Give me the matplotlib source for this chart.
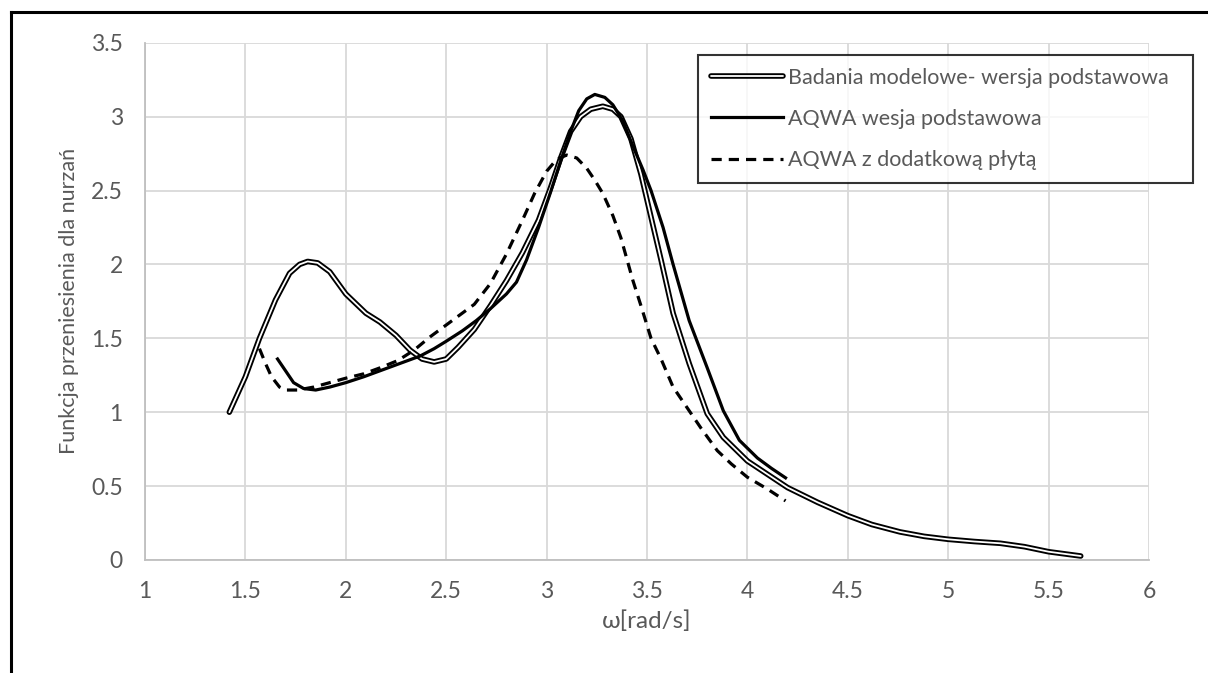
import numpy as np
import matplotlib.pyplot as plt
import matplotlib.patheffects as pe
from matplotlib.lines import Line2D

# values
omega_model = [1.42, 1.50, 1.57, 1.65, 1.72, 1.77, 1.81, 1.86, 1.92, 2.00, 2.10, 2.17, 2.25, 2.32,
               2.38, 2.44, 2.50, 2.56, 2.64, 2.72, 2.80, 2.88, 2.96, 3.02, 3.07, 3.12, 3.17, 3.22,
               3.28, 3.33, 3.37, 3.42, 3.47, 3.52, 3.57, 3.63, 3.71, 3.80, 3.88, 4.00, 4.10, 4.20,
               4.35, 4.50, 4.62, 4.76, 4.88, 5.00, 5.13, 5.26, 5.38, 5.50, 5.66]
rao_model = [1.00, 1.24, 1.50, 1.76, 1.94, 2.00, 2.02, 2.01, 1.95, 1.80, 1.67, 1.61, 1.52, 1.42,
             1.36, 1.34, 1.36, 1.44, 1.56, 1.72, 1.89, 2.08, 2.30, 2.52, 2.72, 2.90, 3.00, 3.05,
             3.07, 3.05, 3.00, 2.85, 2.61, 2.32, 2.03, 1.67, 1.33, 0.99, 0.83, 0.67, 0.58, 0.49,
             0.39, 0.30, 0.24, 0.19, 0.16, 0.14, 0.125, 0.113, 0.09, 0.056, 0.027]

omega_aqwa = [1.66, 1.70, 1.74, 1.79, 1.85, 1.92, 2.00, 2.09, 2.17, 2.27, 2.37, 2.44, 2.50, 2.58,
              2.65, 2.72, 2.80, 2.85, 2.90, 2.96, 3.02, 3.07, 3.12, 3.16, 3.20, 3.24, 3.29, 3.33,
              3.38, 3.43, 3.48, 3.52, 3.58, 3.63, 3.71, 3.80, 3.88, 3.96, 4.05, 4.12, 4.19]
rao_aqwa = [1.36, 1.28, 1.20, 1.16, 1.15, 1.17, 1.20, 1.24, 1.28, 1.33, 1.38, 1.43, 1.48, 1.55,
            1.62, 1.70, 1.80, 1.88, 2.03, 2.25, 2.49, 2.70, 2.90, 3.04, 3.12, 3.15, 3.13, 3.08,
            2.97, 2.80, 2.64, 2.50, 2.25, 2.00, 1.62, 1.30, 1.01, 0.81, 0.69, 0.62, 0.556]

omega_plate = [1.57, 1.60, 1.63, 1.67, 1.70, 1.76, 1.84, 1.92, 2.00, 2.09, 2.17, 2.26, 2.34, 2.42,
               2.50, 2.58, 2.64, 2.72, 2.80, 2.88, 2.94, 3.00, 3.05, 3.10, 3.15, 3.20, 3.24, 3.28,
               3.33, 3.37, 3.43, 3.47, 3.52, 3.57, 3.63, 3.70, 3.77, 3.85, 3.92, 4.00, 4.10, 4.19]
rao_plate = [1.43, 1.33, 1.24, 1.17, 1.15, 1.15, 1.17, 1.20, 1.23, 1.26, 1.30, 1.35, 1.42, 1.51,
             1.59, 1.67, 1.73, 1.87, 2.07, 2.30, 2.48, 2.63, 2.71, 2.74, 2.72, 2.65, 2.57, 2.48,
             2.33, 2.18, 1.89, 1.72, 1.50, 1.36, 1.17, 1.03, 0.89, 0.74, 0.65, 0.56, 0.48, 0.40]

labels = ['Badania modelowe- wersja podstawowa', 'AQWA wesja podstawowa', 'AQWA z dodatkową płytą']
x_ticks = [1, 1.5, 2, 2.5, 3, 3.5, 4, 4.5, 5, 5.5, 6]
y_ticks = [0, 0.5, 1, 1.5, 2, 2.5, 3, 3.5]

text_col = '#595959'
plt.rcParams['font.family'] = ['Lato', 'DejaVu Sans']

fig = plt.figure(figsize=(12.08, 6.73), dpi=100)
ax = fig.add_axes([145 / 1208, 1 - 560 / 673, (1149 - 145) / 1208, (560 - 42.7) / 673])

# double line: thick black with a white core
ax.plot(omega_model, rao_model, color='white', lw=1.3, solid_joinstyle='round',
        solid_capstyle='round', label=labels[0],
        path_effects=[pe.Stroke(linewidth=4.0, foreground='black'), pe.Normal()], zorder=3)
ax.plot(omega_aqwa, rao_aqwa, color='black', lw=2.3, solid_joinstyle='round',
        label=labels[1], zorder=4)
ax.plot(omega_plate, rao_plate, color='black', lw=2.3, dashes=(3.2, 2.2),
        dash_capstyle='butt', label=labels[2], zorder=4)

ax.set_xlim(1, 6)
ax.set_ylim(0, 3.5)
ax.set_xticks(x_ticks)
ax.set_yticks(y_ticks)
ax.set_xticklabels([f'{v:g}' for v in x_ticks])
ax.set_yticklabels([f'{v:g}' for v in y_ticks])
ax.tick_params(length=0, labelsize=16.5, colors=text_col)
ax.tick_params(axis='y', pad=16)
ax.tick_params(axis='x', pad=15)
ax.grid(True, color='#d9d9d9', lw=1.3)
ax.set_axisbelow(True)
for s in ['top', 'right']:
    ax.spines[s].set_visible(False)
for s in ['left', 'bottom']:
    ax.spines[s].set_color('#bfbfbf')
    ax.spines[s].set_linewidth(1.3)

ax.set_xlabel('ω[rad/s]', fontsize=17.5, color=text_col)
ax.xaxis.set_label_coords(0.5, -0.098)
ax.set_ylabel('Funkcja przeniesienia dla nurzań', fontsize=15.5, color=text_col)
ax.yaxis.set_label_coords(-0.066, 0.5)

leg = ax.legend(loc='upper left',
                bbox_to_anchor=(698 / 1208, 1 - 178 / 673, (1193 - 698) / 1208, (178 - 55) / 673),
                bbox_transform=fig.transFigure, mode='expand', fontsize=15.5, frameon=True,
                fancybox=False, handlelength=3.35, handletextpad=0.25, labelspacing=0.98,
                borderaxespad=0, borderpad=0.6)
leg.get_frame().set_edgecolor('black')
leg.get_frame().set_linewidth(1.5)
for t in leg.get_texts():
    t.set_color(text_col)

# border of the chart area (cropped screenshot: left and top only)
fig.add_artist(Line2D([10.5 / 1208, 10.5 / 1208], [0, 1 - 12 / 673], color='black', lw=2.2,
                      transform=fig.transFigure))
fig.add_artist(Line2D([10.5 / 1208, 1], [1 - 12 / 673, 1 - 12 / 673], color='black', lw=2.2,
                      transform=fig.transFigure, solid_capstyle='projecting'))

fig.savefig('out.png', dpi=100)
